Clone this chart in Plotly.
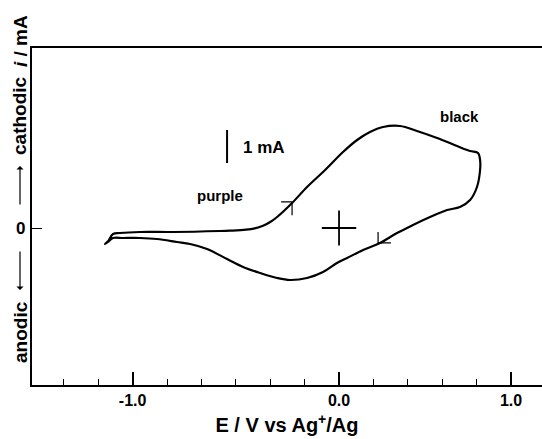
import plotly.graph_objects as go

# Cyclic voltammogram loop (E in V vs Ag+/Ag, i in mA)
E_V = [-1.360, -1.343, -1.314, -1.273, -1.157, -0.965, -0.692, -0.634, -0.540, -0.490,
       -0.442, -0.400, -0.360, -0.273, -0.186, -0.081, 0.023, 0.105, 0.180, 0.256,
       0.355, 0.453, 0.570, 0.686, 0.762, 0.808, 0.820, 0.820, 0.802, 0.762,
       0.703, 0.628, 0.529, 0.430, 0.337, 0.238, 0.140, 0.047, -0.012, -0.093,
       -0.186, -0.285, -0.360, -0.459, -0.558, -0.651, -0.767, -0.866, -0.942, -1.058,
       -1.157, -1.256, -1.314, -1.343, -1.360]
I_mA = [-0.485, -0.400, -0.182, -0.152, -0.121, -0.121, -0.091, -0.080, -0.050, -0.010,
        0.070, 0.180, 0.333, 0.758, 1.242, 1.758, 2.303, 2.667, 2.909, 3.061,
        3.091, 2.939, 2.727, 2.485, 2.333, 2.273, 2.061, 1.758, 1.242, 0.848,
        0.636, 0.545, 0.333, 0.091, -0.152, -0.455, -0.667, -0.909, -1.061, -1.333,
        -1.515, -1.576, -1.515, -1.364, -1.182, -0.940, -0.636, -0.485, -0.424, -0.333,
        -0.303, -0.303, -0.303, -0.424, -0.485]

# 1 mA scale bar
bar_E = [-0.651, -0.651]
bar_I = [1.97, 2.97]

# reference crosses
cross0_E = [-0.10, 0.10, None, 0.0, 0.0]
cross0_I = [0.0, 0.0, None, 0.53, -0.53]
purple_mark_E = [-0.337, -0.273, -0.273]
purple_mark_I = [0.79, 0.79, 0.39]
black_mark_E = [0.227, 0.227, 0.302]
black_mark_I = [-0.12, -0.45, -0.45]

# axis ticks
major_tick_vals = [-1.2, 0.0, 1.0]
major_tick_text = ["-1.0", "0.0", "1.0"]

FONT = "Liberation Sans, Arial, Helvetica, sans-serif"

fig = go.Figure()
line = dict(color="black", width=2.2, shape="spline", smoothing=1.0)
fig.add_trace(go.Scatter(x=E_V, y=I_mA, mode="lines", line=line, hoverinfo="skip"))
thin = dict(color="black", width=1.8)
fig.add_trace(go.Scatter(x=bar_E, y=bar_I, mode="lines", line=dict(color="black", width=2)))
fig.add_trace(go.Scatter(x=cross0_E, y=cross0_I, mode="lines", line=thin))
fig.add_trace(go.Scatter(x=purple_mark_E, y=purple_mark_I, mode="lines", line=dict(color="black", width=1.2)))
fig.add_trace(go.Scatter(x=black_mark_E, y=black_mark_I, mode="lines", line=dict(color="black", width=1.2)))

def ann(x, y, text, size, **kw):
    fig.add_annotation(x=x, y=y, text=text, showarrow=False,
                       xanchor="center", yanchor="middle",
                       font=dict(family=FONT, size=size, color="black"), **kw)

ann(-0.436, 2.45, "<b>1 mA</b>", 17)
ann(-0.692, 0.97, "<b>purple</b>", 15)
ann(0.698, 3.39, "<b>black</b>", 15)

# y-axis title column (paper coordinates: plot area spans y 48..385 px)
XT = -12 / 510
def py(p):
    return (385 - p) / 337

ann(XT, py(228), "<b>0</b>", 17, xref="paper", yref="paper")
ann(XT, py(332), "<b>anodic</b>", 19, xref="paper", yref="paper", textangle=-90)
ann(XT, py(116), "<b>cathodic</b>", 19, xref="paper", yref="paper", textangle=-90)
ann(XT, py(41), "<b><i>i</i> / mA</b>", 19, xref="paper", yref="paper", textangle=-90)
fig.add_annotation(x=XT, xref="paper", y=py(166), yref="paper", ax=0, ay=40, text="",
                   showarrow=True, arrowhead=1, arrowsize=1, arrowwidth=1.2, arrowcolor="black")
fig.add_annotation(x=XT, xref="paper", y=py(290), yref="paper", ax=0, ay=-40, text="",
                   showarrow=True, arrowhead=1, arrowsize=1, arrowwidth=1.2, arrowcolor="black")

fig.update_layout(
    width=542, height=439,
    margin=dict(l=32, r=0, t=48, b=54),
    paper_bgcolor="white", plot_bgcolor="white",
    showlegend=False,
    font=dict(family=FONT, color="black"),
    xaxis=dict(
        range=[-1.785, 1.18], showgrid=False, zeroline=False,
        showline=True, linecolor="black", linewidth=2, mirror=True,
        tickvals=major_tick_vals, ticktext=["<b>%s</b>" % t for t in major_tick_text],
        ticks="inside", ticklen=13, tickwidth=1.6, tickcolor="black",
        tickfont=dict(family=FONT, size=16, color="black"),
        minor=dict(tick0=0, dtick=0.2, ticks="inside", ticklen=6, tickwidth=1.4,
                   tickcolor="black", showgrid=False),
        title=dict(text="<b>E / V vs Ag<sup>+</sup>/Ag</b>", standoff=10,
                   font=dict(family=FONT, size=20, color="black")),
    ),
    yaxis=dict(
        range=[-(385 - 228) / 33, (228 - 48) / 33], showgrid=False, zeroline=False,
        showline=True, linecolor="black", linewidth=2, mirror=False,
        tickvals=[0], ticktext=[""], ticks="inside", ticklen=10, tickwidth=1.2,
        tickcolor="black",
    ),
)

fig.write_html("out.html")
